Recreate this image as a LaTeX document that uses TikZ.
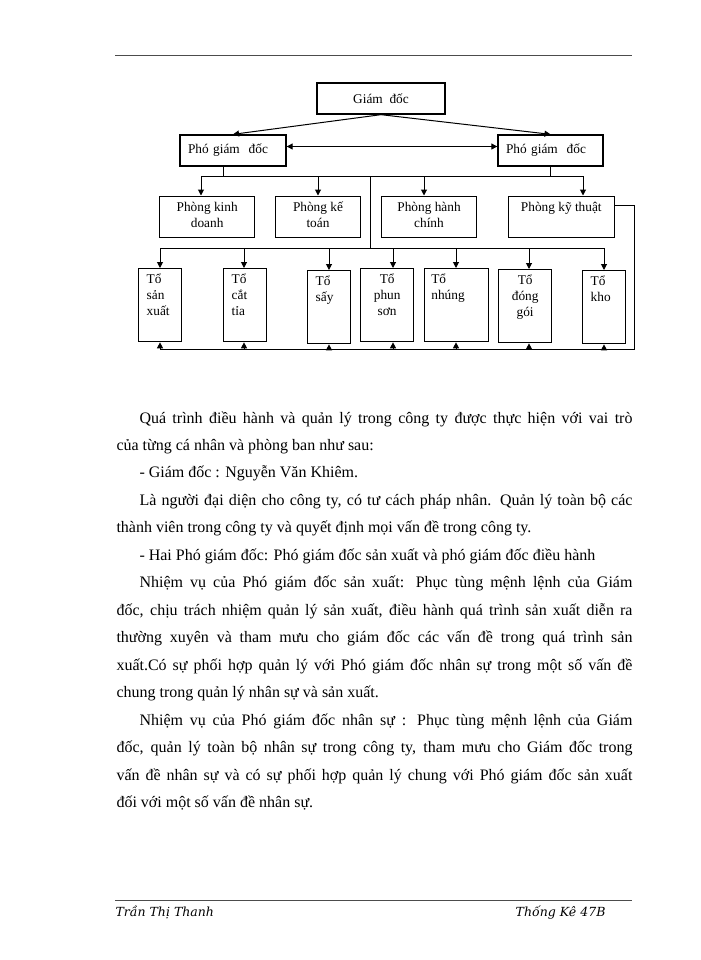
\documentclass[tikz,border=0pt]{standalone}
\usepackage{fontspec}
\setmainfont{Liberation Serif}
\newfontfamily\footfont{DejaVu Serif}
\usetikzlibrary{arrows.meta}
\newcommand{\boxtext}[3]{\parbox[t][#2][t]{#1}{#3}}

\tikzset{every picture/.style={line width=0.75pt}}
\tikzset{
  unit/.style={draw, line width=1pt, inner sep=0pt, font=\fontsize{10}{12}\selectfont},
  topbox/.style={unit, inner xsep=0pt, inner ysep=3pt, anchor=north},
  arrowline/.style={-{Triangle[length=4.5pt,width=4.5pt]}},
  bothline/.style={{Triangle[length=4.5pt,width=4.5pt]}-{Triangle[length=4.5pt,width=4.5pt]}},
  body/.style={inner sep=0pt, anchor=north west, text width=387pt, align=justify, font=\fontsize{12}{20.6}\selectfont},
  foot/.style={inner sep=0pt, font=\footfont\itshape\fontsize{9.4}{11}\selectfont}
}

\begin{document}
\begin{tikzpicture}[x=0.75pt,y=0.75pt,yscale=-1,xscale=1]
\fill[white] (0,0) rectangle (700,960);
\useasboundingbox (0,0) rectangle (700,960);

%Header and footer rules
\draw[gray!60!black] (115,55) -- (632,55);
\draw[gray!60!black] (115,900) -- (632,900);

% Top level
\node[unit, minimum width=96pt, minimum height=23.25pt] (gd) at (381,98.5) {Giám~ đốc};
\node[unit, text width=67.5pt, inner xsep=6pt, minimum height=23.25pt, align=left] (pgd1) at (233,150.5) {Phó giám~ đốc};
\node[unit, text width=66.75pt, inner xsep=6pt, minimum height=23.25pt, align=left] (pgd2) at (550.5,150.5) {Phó giám~ đốc};

% Departments
\node[topbox] (pk1) at (207.2,195.5) {\boxtext{71.25pt}{25.1pt}{\centering\strut Phòng kinh\\doanh}};
\node[topbox] (pk2) at (318,195.5) {\boxtext{64.1pt}{25.1pt}{\centering\strut Phòng kế\\toán}};
\node[topbox] (pk3) at (429,195.5) {\boxtext{71.5pt}{25.1pt}{\centering\strut Phòng hành\\chính}};
\node[topbox] (pk4) at (561.3,195.5) {\boxtext{79.7pt}{25.1pt}{\centering\strut Phòng kỹ thuật}};

% Teams
\node[topbox, anchor=north west] (t1) at (138,268) {\boxtext{32pt}{48.75pt}{\leftskip=6pt\strut Tổ\\sản\\xuất}};
\node[topbox, anchor=north west] (t2) at (223,268) {\boxtext{32pt}{48.75pt}{\leftskip=6pt\strut Tổ\\cắt\\tỉa}};
\node[topbox, anchor=north west] (t3) at (307,270) {\boxtext{32pt}{48.75pt}{\leftskip=6pt\strut Tổ\\sấy}};
\node[topbox, anchor=north west] (t4) at (360,268) {\boxtext{39.75pt}{48.75pt}{\centering\strut Tổ\\phun\\sơn}};
\node[topbox, anchor=north west] (t5) at (424,268) {\boxtext{48pt}{48.75pt}{\leftskip=5pt\strut Tổ\\nhúng}};
\node[topbox, anchor=north west] (t6) at (498,269) {\boxtext{39.75pt}{48.75pt}{\centering\strut Tổ\\đóng\\gói}};
\node[topbox, anchor=north west] (t7) at (582,270) {\boxtext{32pt}{48.75pt}{\leftskip=6pt\strut Tổ\\kho}};

% Bus points
\coordinate (p1) at (223,176);
\coordinate (p2) at (550.5,176);
\coordinate (a1) at (201,176);
\coordinate (a2) at (318,176);
\coordinate (a3) at (424,176);
\coordinate (a4) at (583,176);
\coordinate (m1) at (370.5,176);
\coordinate (m2) at (370.5,248);
\coordinate (c1) at (160,248);
\coordinate (c2) at (244,248);
\coordinate (c3) at (329,248);
\coordinate (c4) at (393,248);
\coordinate (c5) at (456,248);
\coordinate (c6) at (529,248);
\coordinate (c7) at (604,248);
\coordinate (d1) at (160,349);
\coordinate (d2) at (244,349);
\coordinate (d3) at (329,349);
\coordinate (d4) at (393,349);
\coordinate (d5) at (456,349);
\coordinate (d6) at (529,349);
\coordinate (d7) at (604,349);
\coordinate (r1) at (634,205.5);

% Connectors
\draw[arrowline] (gd.south) -- (pgd1.north);
\draw[arrowline] (gd.south) -- (pgd2.north);
\draw[bothline] ([yshift=-3pt]pgd1.east) -- ([yshift=-3pt]pgd2.west);
\draw (p1 |- pgd1.south) -- (p1);
\draw (p2 |- pgd2.south) -- (p2);
\draw (a1) -- (a4);
\draw[arrowline] (a1) -- (a1 |- pk1.north);
\draw[arrowline] (a2) -- (a2 |- pk2.north);
\draw[arrowline] (a3) -- (a3 |- pk3.north);
\draw[arrowline] (a4) -- (a4 |- pk4.north);
\draw (m1) -- (m2);
\draw (c1) -- (c7);
\draw[arrowline] (c1) -- (c1 |- t1.north);
\draw[arrowline] (c2) -- (c2 |- t2.north);
\draw[arrowline] (c3) -- (c3 |- t3.north);
\draw[arrowline] (c4) -- (c4 |- t4.north);
\draw[arrowline] (c5) -- (c5 |- t5.north);
\draw[arrowline] (c6) -- (c6 |- t6.north);
\draw[arrowline] (c7) -- (c7 |- t7.north);
\draw (pk4.east |- r1) -- (r1) -- (r1 |- d1) -- (d1);
\draw[arrowline] (d1) -- (d1 |- t1.south);
\draw[arrowline] (d2) -- (d2 |- t2.south);
\draw[arrowline] (d3) -- (d3 |- t3.south);
\draw[arrowline] (d4) -- (d4 |- t4.south);
\draw[arrowline] (d5) -- (d5 |- t5.south);
\draw[arrowline] (d6) -- (d6 |- t6.south);
\draw[arrowline] (d7) -- (d7 |- t7.south);

% Text Node
\node[body] (txt) at (116,403.3) {%
\hspace*{17.25pt}\strut Quá trình điều hành và quản lý trong công ty được thực hiện với vai trò\linebreak của từng cá nhân và phòng ban như sau:\par
\hspace*{17.25pt}- Giám đốc : Nguyễn Văn Khiêm.\par
\hspace*{17.25pt}Là người đại diện cho công ty, có tư cách pháp nhân. Quản lý toàn bộ các\linebreak thành viên trong công ty và quyết định mọi vấn đề trong công ty.\par
\hspace*{17.25pt}- Hai Phó giám đốc: Phó giám đốc sản xuất và phó giám đốc điều hành\par
\hspace*{17.25pt}Nhiệm vụ của Phó giám đốc sản xuất: Phục tùng mệnh lệnh của Giám\linebreak đốc, chịu trách nhiệm quản lý sản xuất, điều hành quá trình sản xuất diễn ra\linebreak thường xuyên và tham mưu cho giám đốc các vấn đề trong quá trình sản\linebreak xuất.Có sự phối hợp quản lý với Phó giám đốc nhân sự trong một số vấn đề\linebreak chung trong quản lý nhân sự và sản xuất.\par
\hspace*{17.25pt}Nhiệm vụ của Phó giám đốc nhân sự : Phục tùng mệnh lệnh của Giám\linebreak đốc, quản lý toàn bộ nhân sự trong công ty, tham mưu cho Giám đốc trong\linebreak vấn đề nhân sự và có sự phối hợp quản lý chung với Phó giám đốc sản xuất\linebreak đối với một số vấn đề nhân sự.\par};

% Footer Text
\node[foot, anchor=base west] (author) at (115,916) {Trần Thị Thanh};
\node[foot, anchor=base east] (course) at (606,916) {Thống Kê 47B};

\end{tikzpicture}
\end{document}
